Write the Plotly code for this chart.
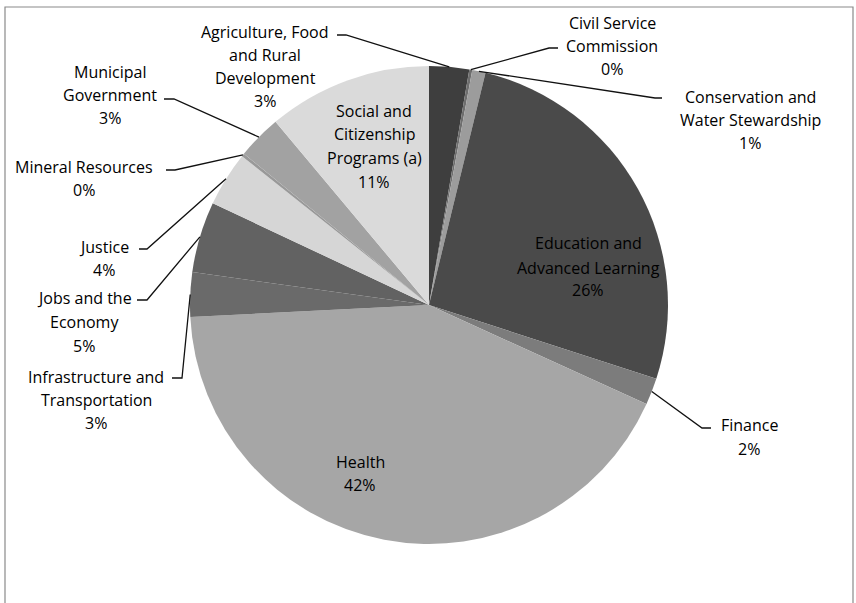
import math
import plotly.graph_objects as go

# ---- data ----
departments = [
    "Agriculture, Food and Rural Development",
    "Civil Service Commission",
    "Conservation and Water Stewardship",
    "Education and Advanced Learning",
    "Finance",
    "Health",
    "Infrastructure and Transportation",
    "Jobs and the Economy",
    "Justice",
    "Mineral Resources",
    "Municipal Government",
    "Social and Citizenship Programs (a)",
]
shares = [2.7, 0.2, 0.9, 26.2, 1.8, 42.4, 3.0, 4.8, 3.7, 0.2, 3.0, 11.1]
label_lines = [
    ["Agriculture, Food", "and Rural", "Development"],
    ["Civil Service", "Commission"],
    ["Conservation and", "Water Stewardship"],
    ["Education and", "Advanced Learning"],
    ["Finance"],
    ["Health"],
    ["Infrastructure and", "Transportation"],
    ["Jobs and the", "Economy"],
    ["Justice"],
    ["Mineral Resources"],
    ["Municipal", "Government"],
    ["Social and", "Citizenship", "Programs (a)"],
]

# ---- styles / layout (pixels) ----
W, H = 856, 603
CX, CY, R = 429, 305, 239
colors = ["#3e3e3e", "#6e6e6e", "#9c9c9c", "#4a4a4a", "#7c7c7c", "#a6a6a6",
          "#6a6a6a", "#626262", "#d6d6d6", "#999999", "#a2a2a2", "#dadada"]
# label block: center x, y of each line (incl. percent line), leader tail (x_near_text, x_elbow, y) or None
label_pos = [
    (265, [32, 55, 78, 101], (337, 346, 35)),
    (612, [23, 46, 69], (558, 549, 48)),
    (750, [97, 120, 143], (662, 655, 98)),
    (588, [243, 268, 290], None),
    (749, [425, 449], (711, 702, 428)),
    (360, [462, 485], None),
    (96, [377, 400, 423], (172, 182, 378)),
    (84, [298, 322, 346], (137, 147, 300)),
    (104, [247, 270], (139, 147, 249)),
    (84, [167, 190], (166, 175, 170)),
    (110, [72, 95, 118], (164, 174, 99)),
    (374, [111, 134, 158, 182], None),
]

FONT = dict(family="'Open Sans', sans-serif", size=16, color="#000000")


def px(x):
    return x / W


def py(y):
    return 1 - y / H


fig = go.Figure()
fig.add_trace(go.Pie(
    labels=departments,
    values=shares,
    sort=False,
    direction="clockwise",
    rotation=0,
    textinfo="none",
    hoverinfo="label+percent",
    marker=dict(colors=colors, line=dict(width=0)),
    domain=dict(x=[px(CX - R), px(CX + R)], y=[py(CY + R), py(CY - R)]),
    showlegend=False,
))

total = sum(shares)
annotations = []
shapes = []
cum = 0.0
for name, val, lines, col, pos in zip(departments, shares, label_lines, colors, label_pos):
    mid = (cum + val / 2) / total
    cum += val
    theta = 2 * math.pi * mid
    ax = CX + R * math.sin(theta)
    ay = CY - R * math.cos(theta)
    xc, ys, tail = pos
    texts = lines + [f"{round(100 * val / total):d}%"]
    for t, y in zip(texts, ys):
        annotations.append(dict(
            x=px(xc), y=py(y), xref="paper", yref="paper", text=t,
            showarrow=False, xanchor="center", yanchor="middle", font=FONT,
        ))
    if tail is not None:
        xt, xe, yt = tail
        path = f"M {px(ax)},{py(ay)} L {px(xe)},{py(yt)} L {px(xt)},{py(yt)}"
        shapes.append(dict(type="path", xref="paper", yref="paper", path=path,
                           line=dict(color="#111111", width=1.3)))

# chart frame
shapes.append(dict(type="rect", xref="paper", yref="paper",
                   x0=px(5), x1=px(853), y0=py(612), y1=py(7),
                   line=dict(color="#8a8a8a", width=1.2)))

fig.update_layout(
    width=W, height=H,
    margin=dict(l=0, r=0, t=0, b=0),
    paper_bgcolor="white", plot_bgcolor="white",
    annotations=annotations, shapes=shapes,
)

fig.write_html(
    "out.html",
    config={"displayModeBar": False},
    post_script="document.body.style.margin='0px';document.body.style.overflow='hidden';",
)
